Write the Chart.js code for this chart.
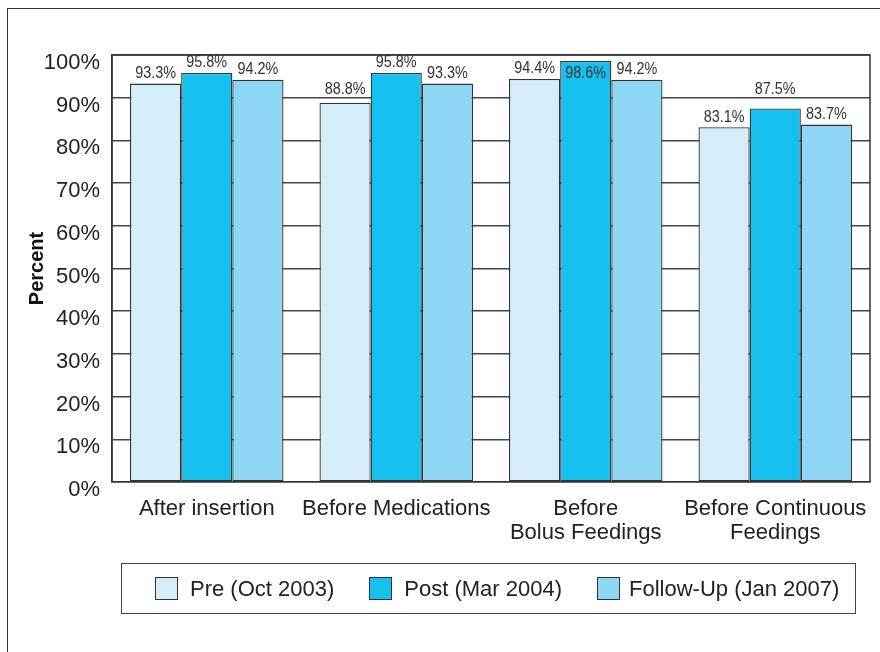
<!DOCTYPE html>
<html>
<head>
<meta charset="utf-8">
<script src="https://cdn.jsdelivr.net/npm/chart.js@4.4.0/dist/chart.umd.min.js"></script>
<style>
  html, body { margin: 0; padding: 0; background: #fff; }
  #wrap { position: relative; width: 880px; height: 652px; overflow: hidden; }
  #frame {
    position: absolute; left: 7px; top: 8px; width: 900px; height: 700px;
    border-top: 1.5px solid #333; border-left: 1.5px solid #333;
  }
  canvas { position: absolute; left: 0; top: 0; }
  #legend {
    position: absolute; left: 121px; top: 563px; width: 735px; height: 51px;
    border: 1.5px solid #444; display: flex; align-items: center;
    padding-left: 33px; box-sizing: border-box; white-space: nowrap;
    font-family: "Liberation Sans", Arial, sans-serif; font-size: 22px; color: #222;
  }
  #legend .item { display: flex; align-items: center; margin-right: 35px; flex-shrink: 0; }
  #legend .sw { width: 21px; height: 21px; border: 1px solid #333; margin-right: 12px; flex-shrink: 0; }
  #legend .item:last-child .sw { margin-right: 9px; }
</style>
</head>
<body>
<div id="wrap">
  <div id="frame"></div>
  <canvas id="chart" width="880" height="652"></canvas>
  <div id="legend"></div>
</div>
<script>
const categories = ['After insertion', 'Before Medications', ['Before', 'Bolus Feedings'], ['Before Continuous', 'Feedings']];
const seriesNames = ['Pre (Oct 2003)', 'Post (Mar 2004)', 'Follow-Up (Jan 2007)'];
const preValues = [93.3, 88.8, 94.4, 83.1];
const postValues = [95.8, 95.8, 98.6, 87.5];
const followValues = [94.2, 93.3, 94.2, 83.7];
const yTickLabels = ['0%', '10%', '20%', '30%', '40%', '50%', '60%', '70%', '80%', '90%', '100%'];

const colors = ['#d5ecf9', '#16c1f0', '#8dd7f5'];
const fontFamily = '"Liberation Sans", Arial, sans-serif';

const valueLabels = {
    id: 'valueLabels',
    afterDatasetsDraw(chart) {
        const ctx = chart.ctx;
        const area = chart.chartArea;
        const yScale = chart.scales.y;
        const grid = yScale.ticks.map(t => yScale.getPixelForValue(t.value));
        ctx.save();
        ctx.font = '16px ' + fontFamily;
        ctx.fillStyle = '#333';
        ctx.textAlign = 'center';
        ctx.textBaseline = 'middle';
        chart.data.datasets.forEach((ds, di) => {
            const meta = chart.getDatasetMeta(di);
            meta.data.forEach((bar, i) => {
                let y = bar.y - 10;
                if (y - 6 < area.top) {
                    y = bar.y + 13;
                } else {
                    grid.forEach(g => {
                        if (Math.abs(y - g) < 7) y = g - 8;
                    });
                }
                ctx.save();
                ctx.translate(bar.x, y);
                ctx.scale(0.9, 1);
                ctx.fillText(ds.data[i].toFixed(1) + '%', 0, 0);
                ctx.restore();
            });
        });
        ctx.restore();
    }
};

const plotBox = {
    id: 'plotBox',
    afterDatasetsDraw(chart) {
        const a = chart.chartArea;
        const ctx = chart.ctx;
        ctx.save();
        ctx.strokeStyle = '#333';
        ctx.lineWidth = 1.5;
        ctx.beginPath();
        ctx.moveTo(a.left, a.bottom);
        ctx.lineTo(a.left, a.top);
        ctx.lineTo(a.right, a.top);
        ctx.lineTo(a.right, a.bottom);
        ctx.stroke();
        ctx.restore();
    }
};

const datasets = [preValues, postValues, followValues].map((vals, i) => ({
    label: seriesNames[i],
    data: vals,
    backgroundColor: colors[i],
    borderColor: '#333',
    borderWidth: 1.3,
    borderSkipped: false,
    barPercentage: 1.0,
    categoryPercentage: 0.81
}));

new Chart(document.getElementById('chart'), {
    type: 'bar',
    data: { labels: categories, datasets: datasets },
    options: {
        responsive: false,
        animation: false,
        layout: { padding: { top: 55, right: 10, bottom: 0, left: 0 } },
        plugins: {
            legend: { display: false },
            tooltip: { enabled: false }
        },
        scales: {
            x: {
                grid: { display: false, drawTicks: false },
                border: { display: true, color: '#333', width: 1.5 },
                ticks: {
                    padding: 15,
                    color: '#222',
                    font: { family: fontFamily, size: 22, lineHeight: 1.1 },
                    maxRotation: 0,
                    autoSkip: false
                },
                afterFit(scale) {
                    scale.height = 170;
                    scale.paddingLeft = 0;
                    scale.paddingRight = 0;
                }
            },
            y: {
                min: 0,
                max: 100,
                grid: { color: '#444', lineWidth: 1.5, drawTicks: false },
                border: { display: true, color: '#333', width: 1.5 },
                ticks: {
                    stepSize: 10,
                    padding: 12,
                    labelOffset: 8,
                    color: '#222',
                    font: { family: fontFamily, size: 22 },
                    callback: (value) => yTickLabels[Math.round(value / 10)]
                },
                title: {
                    display: true,
                    text: 'Percent',
                    color: '#111',
                    font: { family: fontFamily, size: 20, weight: 'bold' },
                    padding: { top: 25, bottom: 0 }
                },
                afterFit(scale) { scale.width = 112; }
            }
        }
    },
    plugins: [valueLabels, plotBox]
});

const legend = document.getElementById('legend');
seriesNames.forEach((name, i) => {
    const item = document.createElement('div');
    item.className = 'item';
    const sw = document.createElement('div');
    sw.className = 'sw';
    sw.style.background = colors[i];
    const txt = document.createElement('span');
    txt.textContent = name;
    item.appendChild(sw);
    item.appendChild(txt);
    legend.appendChild(item);
});
</script>
</body>
</html>
